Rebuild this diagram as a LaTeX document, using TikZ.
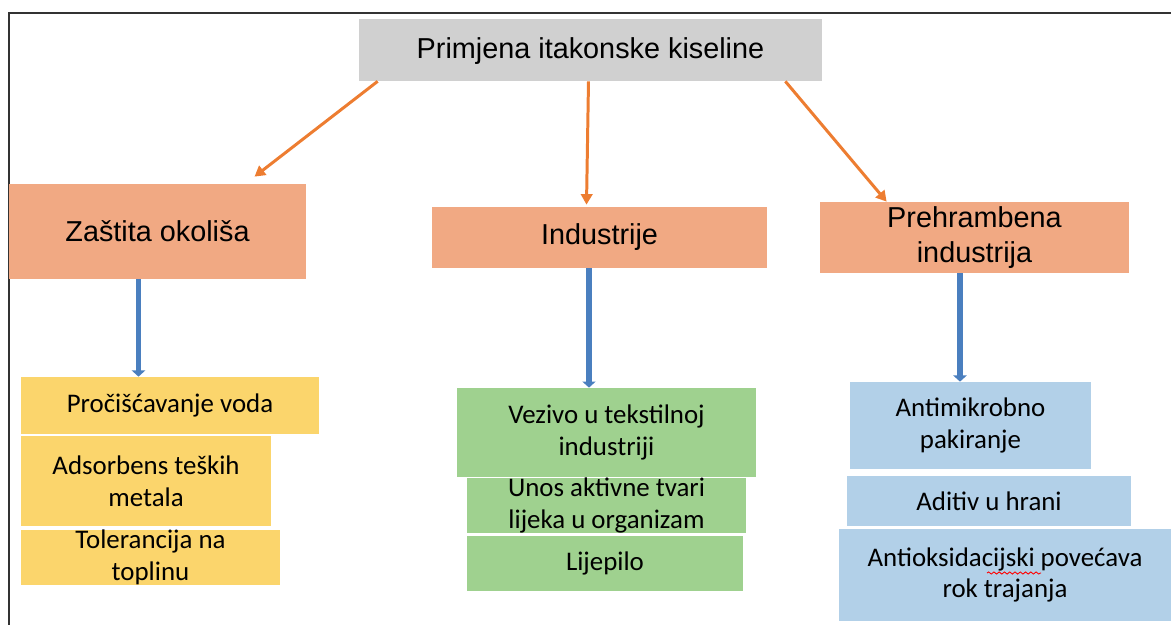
\documentclass[tikz,border=0pt]{standalone}
\usepackage{fontspec}
\usetikzlibrary{arrows.meta,calc,decorations.pathmorphing}
\newfontfamily\headfont{Liberation Sans}
\newfontfamily\itemfont{Carlito}
\definecolor{titlegray}{HTML}{D0D0D0}
\definecolor{catsalmon}{HTML}{F1A983}
\definecolor{arroworange}{HTML}{ED7D31}
\definecolor{itemyellow}{HTML}{FBD56C}
\definecolor{itemgreen}{HTML}{9FD18F}
\definecolor{itemblue}{HTML}{B2D0E8}
\definecolor{arrowblue}{HTML}{4A7FBF}
\tikzset{
	titlebox/.style={fill=titlegray, inner sep=0, text depth=0.25em, font=\headfont\fontsize{16.4}{19.6}\selectfont},
	catbox/.style={fill=catsalmon, inner sep=0, align=center, font=\headfont\fontsize{16.4}{19.6}\selectfont},
	itembox/.style={inner sep=0, align=center, font=\itemfont\fontsize{15.3}{18}\selectfont},
	toparrow/.style={arroworange, line width=1.7pt, -{Triangle[length=6pt,width=6.5pt]}},
	downarrow/.style={arrowblue, line width=3.3pt, -{Triangle[length=3.5pt,width=7.5pt]}}
}
\begin{document}
\begin{tikzpicture}[x=0.02cm,y=-0.02cm]
	\useasboundingbox (0,0) rectangle (1171,625);
	\draw[line width=1.3pt, black!80] (9,625) -- (9,13) -- (1171,13);
	
	\node[titlebox, minimum width=463*0.02cm, minimum height=62*0.02cm] (title) at (590.5,50) {Primjena itakonske kiseline};
	
	\node[catbox, minimum width=297*0.02cm, minimum height=95*0.02cm] (zastita) at (157.5,231.5) {Zaštita okoliša};
	\node[catbox, minimum width=335*0.02cm, minimum height=61*0.02cm] (industrije) at (599.5,237.5) {Industrije};
	\node[catbox, minimum width=309*0.02cm, minimum height=71*0.02cm] (prehrambena) at (974.5,237.5) {Prehrambena\\industrija};
	
	\draw[toparrow] ($(title.south west)+(19,0)$) -- ($(zastita.north)+(97,-7)$);
	\draw[toparrow] ($(title.south)+(-2,0)$) -- ($(industrije.north)+(-13,-2)$);
	\draw[toparrow] ($(title.south east)+(-37,0)$) -- ($(prehrambena.north west)+(67,0)$);
	
	\node[itembox, fill=itemyellow, minimum width=298*0.02cm, minimum height=57*0.02cm] (voda) at (170,405.5) {Pročišćavanje voda};
	\node[itembox, fill=itemyellow, minimum width=250*0.02cm, minimum height=90*0.02cm] (metali) at (146,481) {Adsorbens teških\\metala};
	\node[itembox, fill=itemyellow, minimum width=259*0.02cm, minimum height=55*0.02cm] (toplina) at (150.5,557.5) {Tolerancija na\\toplinu};
	
	\node[itembox, fill=itemgreen, minimum width=299*0.02cm, minimum height=89*0.02cm] (vezivo) at (606.5,432.5) {Vezivo u tekstilnoj\\industriji};
	\node[itembox, fill=itemgreen, minimum width=279*0.02cm, minimum height=51*0.02cm] (lijek) at (606.5,505.5) {Unos aktivne tvari\\lijeka u organizam};
	\node[itembox, fill=itemgreen, minimum width=276*0.02cm, minimum height=55*0.02cm] (ljepilo) at (605,563.5) {Lijepilo};
	
	\node[itembox, fill=itemblue, minimum width=241*0.02cm, minimum height=87*0.02cm] (pakiranje) at (970.5,425.5) {Antimikrobno\\pakiranje};
	\node[itembox, fill=itemblue, minimum width=284*0.02cm, minimum height=50*0.02cm] (aditiv) at (989,501) {Aditiv u hrani};
	\node[itembox, fill=itemblue, minimum width=332*0.02cm, minimum height=92*0.02cm] (trajanje) at (1005,575) {Antioksidacijski povećava\\rok trajanja};
	\draw[red, line width=0.5pt, decorate, decoration={snake, amplitude=0.6pt, segment length=3pt}] ($(trajanje.center)+(-18,-2)$) -- ($(trajanje.center)+(36,-2)$);
	
	\coordinate (zs) at ($(zastita.south)+(-19,0)$);
	\coordinate (is) at ($(industrije.south)+(-10.5,0)$);
	\coordinate (ps) at ($(prehrambena.south)+(-14.5,0)$);
	\draw[downarrow] (zs) -- (zs |- voda.north);
	\draw[downarrow] (is) -- (is |- vezivo.north);
	\draw[downarrow] (ps) -- (ps |- pakiranje.north);
\end{tikzpicture}
\end{document}
